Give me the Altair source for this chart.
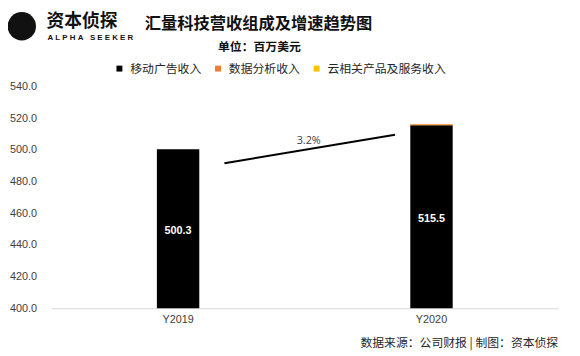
import altair as alt
import pandas as pd

years = ["Y2019", "Y2020"]
mobile_ads = [500.3, 515.5]
data_analytics = [0.0, 0.6]
cloud_services = [0.0, 0.2]
series_names = ["移动广告收入", "数据分析收入", "云相关产品及服务收入"]
series_colors = ["#000000", "#ED7D31", "#FFC000"]
growth_label = "3.2%"
growth_from = 491.5
growth_to = 509.5
y_ticks = [400, 420, 440, 460, 480, 500, 520, 540]

rows = []
for i, y in enumerate(years):
    for k, (name, vals) in enumerate(zip(series_names, [mobile_ads, data_analytics, cloud_services])):
        rows.append({"year": y, "series": name, "value": vals[i], "order": k})
df = pd.DataFrame(rows)

lab_df = pd.DataFrame({"year": years, "value": mobile_ads})
growth_df = pd.DataFrame({"start": [years[0]], "end": [years[1]], "y1": [growth_from], "y2": [growth_to],
                          "label": [growth_label], "ym": [(growth_from + growth_to) / 2]})

x_scale = alt.Scale(domain=years, paddingInner=0, paddingOuter=0)
x_axis = alt.Axis(labelAngle=0, ticks=False, domainColor="#D9D9D9", labelFont="Liberation Sans",
                  labelFontSize=11, labelColor="#404040", labelPadding=6, title=None)
y_scale = alt.Scale(domain=[400, 540], zero=False, nice=False)
y_axis = alt.Axis(values=y_ticks, format=".1f", grid=False, ticks=False, domain=False,
                  labelFont="Liberation Sans", labelFontSize=11, labelColor="#404040",
                  labelPadding=15, labelOverlap=False, title=None)

bars = alt.Chart(df).mark_bar(size=43, clip=True).encode(
    x=alt.X("year:N", scale=x_scale, axis=x_axis),
    y=alt.Y("value:Q", stack="zero", scale=y_scale, axis=y_axis),
    color=alt.Color("series:N", sort=series_names,
                    scale=alt.Scale(domain=series_names, range=series_colors),
                    legend=alt.Legend(title=None, orient="none", direction="horizontal",
                                      legendX=63, legendY=-24, symbolType="square", symbolSize=36,
                                      symbolStrokeWidth=0, labelFont="Noto Sans CJK SC", labelFontSize=12,
                                      labelColor="#262626", columnPadding=10, symbolOffset=0,
                                      labelOffset=5)),
    order=alt.Order("order:Q"),
)

labels = alt.Chart(lab_df).transform_calculate(mid="(400 + datum.value) / 2").mark_text(
    color="white", fontWeight="bold", font="Liberation Sans", fontSize=11, dy=2
).encode(x=alt.X("year:N", scale=x_scale, axis=x_axis), y=alt.Y("mid:Q", scale=y_scale, axis=y_axis),
         text=alt.Text("value:Q", format=".1f"))

growth_line = alt.Chart(growth_df).mark_rule(color="black", strokeWidth=2, xOffset=47, x2Offset=-37).encode(
    x=alt.X("start:N", scale=x_scale, axis=x_axis), x2="end:N",
    y=alt.Y("y1:Q", scale=y_scale, axis=y_axis), y2="y2:Q")

growth_text = alt.Chart(growth_df).mark_text(font="Open Sans", fontSize=11, color="#404040", dy=-8, dx=4).encode(
    x=alt.value(257), y=alt.Y("ym:Q", scale=y_scale, axis=y_axis), text="label:N")

logo_icon = alt.Chart(pd.DataFrame({"t": ["logo"]})).mark_circle(
    size=830, color="#111111", opacity=1
).encode(x=alt.value(-30), y=alt.value(-61))
logo1 = alt.Chart(pd.DataFrame({"t": ["资本侦探"]})).mark_text(
    font="Noto Sans CJK SC", fontSize=18, fontWeight="bold", align="left", color="#111111"
).encode(x=alt.value(-5), y=alt.value(-65), text="t:N")
sp = "\u00a0"
alpha_txt = sp.join("ALPHA") + sp * 3 + sp.join("SEEKER")
logo2 = alt.Chart(pd.DataFrame({"t": [alpha_txt]})).mark_text(
    font="Liberation Sans", fontSize=8, fontWeight="bold", align="left", color="#111111"
).encode(x=alt.value(-4), y=alt.value(-49), text="t:N")

title = alt.Chart(pd.DataFrame({"t": ["汇量科技营收组成及增速趋势图"]})).mark_text(
    font="Noto Sans CJK SC", fontSize=16.5, fontWeight="bold", color="#111111"
).encode(x=alt.value(210), y=alt.value(-63), text="t:N")
subtitle = alt.Chart(pd.DataFrame({"t": ["单位：百万美元"]})).mark_text(
    font="Noto Sans CJK SC", fontSize=12, fontWeight="bold", color="#111111"
).encode(x=alt.value(211), y=alt.value(-40), text="t:N")

source = alt.Chart(pd.DataFrame({"t": ["数据来源：公司财报 | 制图：资本侦探"]})).mark_text(
    font="Noto Sans CJK SC", fontSize=12, align="right", color="#262626"
).encode(x=alt.value(514), y=alt.value(260), text="t:N")

chart = alt.layer(bars, labels, growth_line, growth_text, logo_icon, logo1, logo2, title, subtitle, source).properties(
    width=514, height=225,
    autosize=alt.AutoSizeParams(type="none"),
    padding={"left": 44, "top": 77, "right": 14, "bottom": 46},
).configure_view(stroke=None)

chart.save("out.html", embed_options={"renderer": "svg", "actions": False})
